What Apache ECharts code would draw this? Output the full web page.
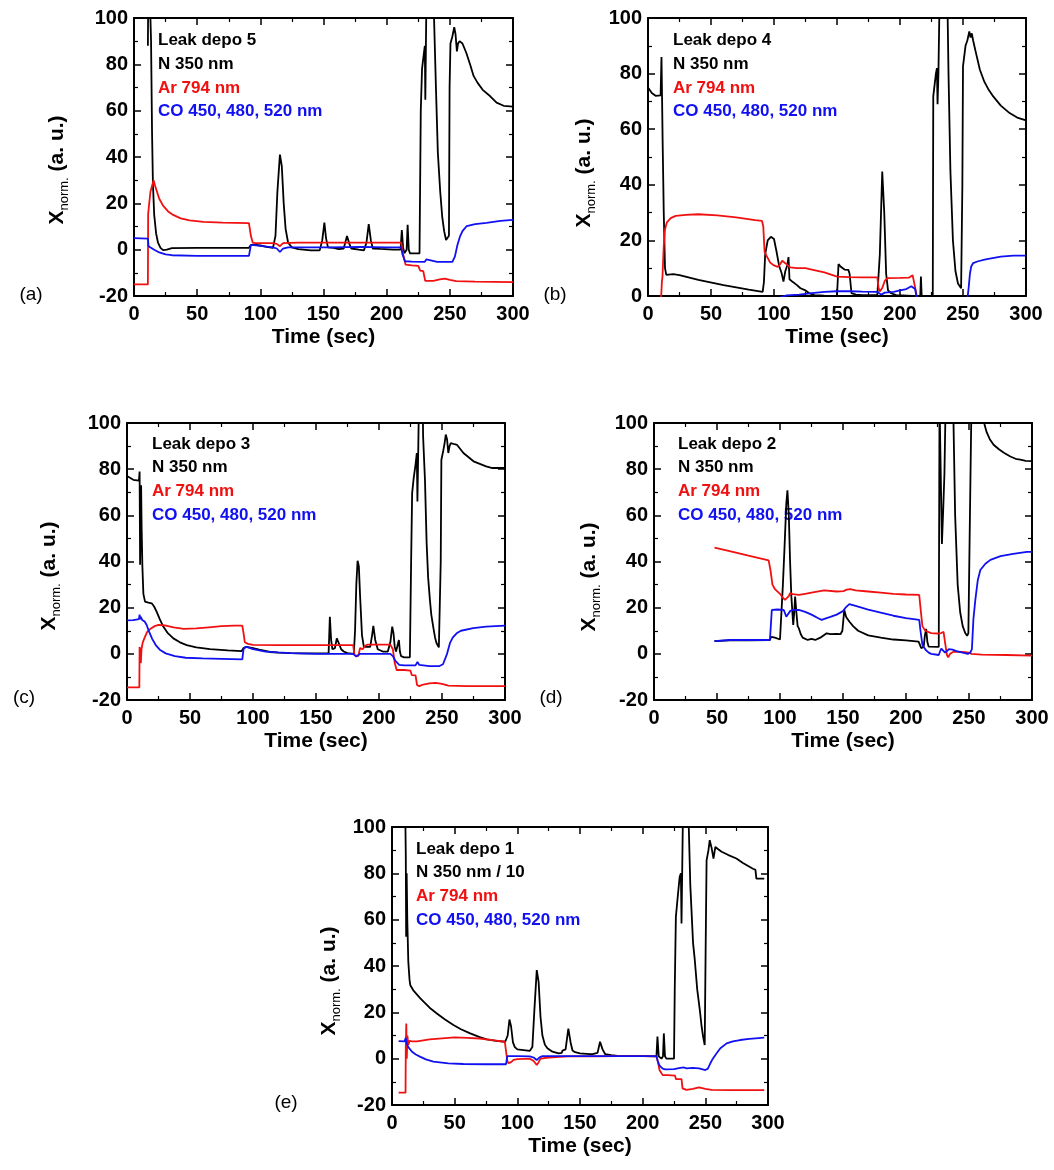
<!DOCTYPE html>
<html>
<head>
<meta charset="utf-8">
<script src="https://cdn.jsdelivr.net/npm/echarts@6/dist/echarts.min.js"></script>
<style>
html,body{margin:0;padding:0;background:#fff;}
#chart{width:1054px;height:1170px;}
</style>
</head>
<body>
<div id="chart"></div>
<script>
// ---------- DATA (time in s, normalized intensity) ----------
const a_N = [[11,88],[11.5,130],[13,130],[13.5,90],[14.3,50],[15,28],[16,15],[17.5,7],[19,3],[21,0.8],[23,-0.2],[26,0],[30,0.7],[50,0.8],[91,0.8],[92.5,2],[95,2.2],[100,1.8],[105,1.2],[110,0.8],[112,6],[113.5,25],[115.5,41],[117,36],[118.5,20],[120,9],[122,3],[125,1],[130,0.2],[140,-0.3],[147,-0.3],[149,4],[150.7,11.7],[152,5],[153.5,1],[158,0.8],[162,0.2],[166,0.5],[168.6,5.9],[170.5,2.5],[172,0.5],[178,0],[182,-0.3],[184,3],[185.8,11],[187.5,4],[189,0.5],[195,0.3],[205,0],[211,0],[212,8.5],[213,1],[214,-1.5],[215.8,0],[216.6,10.7],[217.5,0],[218.5,-1.6],[226,-1.6],[227,60],[228,78],[229.5,85],[230.2,88],[230.6,64.7],[231.3,100],[232,140],[236.5,140],[237.5,100],[239,70],[240.5,42],[242.4,25],[244,14],[245.5,8],[247,4.2],[248.5,4],[249.3,6],[249.8,70],[250.5,89],[252,92],[253.5,96],[254.5,93],[255.6,85.6],[256.5,89],[257.7,90],[260,89],[263,85],[266,80],[268.8,75],[272,72],[276,69],[282,66.2],[287,63.5],[292.6,62.1],[300,61.7]];
const a_Ar = [[0,-15],[11,-15],[11.2,15.5],[12,16],[13,25],[15.5,30],[17,27],[20,22],[23,19],[27,16.5],[31,15],[37,13.5],[44,12.6],[55,12],[70,11.7],[91,11.5],[92.5,6],[94,3],[96,2.8],[110,2.8],[113,2.5],[115.5,1.5],[118,2.8],[130,3],[150,3],[180,3],[200,3],[211.5,3],[213,-2],[215,-6.5],[220,-6.8],[225,-7],[226.5,-9],[229,-9.3],[230,-10],[230.5,-13.5],[232,-14],[237,-13.5],[242,-12.8],[246,-12.5],[250,-13],[255,-13.6],[270,-13.8],[300,-14]];
const a_CO = [[0,5],[11,4.8],[11.5,1.5],[13,1.2],[16,0],[20,-1.2],[25,-2],[30,-2.4],[50,-2.7],[91,-2.7],[92.5,2],[95,2],[100,1.6],[110,1],[113,0.5],[115.5,-1],[118,0.5],[122,1],[140,1],[155,1],[180,1.2],[200,1],[211.5,1],[212.5,-2],[214.5,-5],[220,-5.2],[230,-5.3],[231.5,-4.2],[233,-4.8],[240,-5.3],[252,-5.3],[254,-3],[256,2],[258,5.6],[260,8],[263.4,10.2],[270,11],[279,11.6],[290,12.4],[300,12.9]];

const b_N = [[0,75],[3,73],[6,72],[10,72.2],[10.7,86],[11.2,70],[11.6,56],[12.5,30],[13.5,10],[14.5,7.6],[16,7],[20,7.9],[25,7.5],[40,5.8],[60,3.9],[80,2.3],[91,1.5],[92,5],[93,15],[95,20],[97.5,21.3],[100,20.5],[102,16],[104,11],[106,8.3],[107.5,5.2],[109,9],[110.5,11],[111.5,14],[112.3,6],[113,6.5],[115,5],[118,4],[121,2.8],[125,2],[128,1],[132,0.3],[140,0.1],[150,0],[151.2,11.5],[153,10.5],[156,9.5],[159,9.4],[160,8],[161.5,1],[165,0.5],[170,0.3],[182,0.3],[184,15],[185.9,44.8],[187.5,30],[189,8],[190.5,2],[193,1],[197,0.3],[210,0],[213,0],[214,-1],[216,-1],[216.6,7],[217.3,-1],[226,-1],[226.4,71.8],[227,72],[228.5,80],[229.3,82],[229.8,69],[230.5,80],[231.5,110],[237.5,110],[238.5,80],[240,45],[242,20],[244,9],[246,4.5],[248.5,2.8],[249.5,40],[250,82.6],[252,90],[253.5,92],[255,95.2],[256,93],[257,94.5],[258,92],[260,88],[263.4,81.4],[267,77],[270,74.5],[274,71.8],[280,68.5],[287,65.8],[293,64.2],[300,63.2]];
const b_Ar = [[10,-1],[10.5,0],[11,5],[11.5,7],[12.5,18],[13.5,24],[15,26.5],[18,28],[22,28.8],[30,29.2],[40,29.4],[55,29],[70,28.3],[85,27.3],[90.5,27],[91.5,25],[92.5,16],[94,14.5],[97,12],[100,11],[103,10.5],[105,11.5],[106.5,12.7],[109,11.8],[111,11],[113,10.3],[118,10],[125,10],[130,9.5],[140,8.5],[150,7],[160,6.8],[170,6.7],[182,6.7],[183,3],[184,1.6],[186,3],[188,5.5],[190,6.4],[200,6.5],[207,6.6],[210,7.5],[211.5,7],[212.5,2],[213.5,-1]];
const b_CO = [[105,-0.5],[106,0],[110,0.2],[120,0.5],[130,1],[140,1.5],[150,1.7],[160,1.7],[170,1.6],[182,1.5],[183.5,0.8],[185,0.5],[188,1.2],[195,1.5],[200,2],[205,2.5],[209,3.5],[210.5,3.6],[212,2.5],[213,0],[213.5,-1],[253.5,-1],[254.5,3],[255.5,8],[256.5,10.6],[258,11.8],[262,12.5],[268,13.2],[280,14.2],[290,14.5],[300,14.5]];

const c_N = [[0,77],[5,75.4],[9.5,75],[10,79],[10.4,38.6],[10.8,60],[11.2,73],[11.6,55],[12.2,38],[13,26],[14.3,22.6],[17,22.2],[19.6,21.9],[21.5,20.5],[23.5,18.3],[26,15],[28.8,11.8],[32,9.2],[36.8,6.7],[42,5],[47.4,3.8],[55,2.8],[65.9,2],[80,1.5],[91,1.2],[92.5,2.5],[95,3],[100,2.5],[105,1.8],[113.5,0.8],[120,0.5],[130,0.3],[140,0.2],[150,0.2],[160,0.2],[160.5,8],[161,16],[162,6],[163,2],[165,2.5],[166.5,6.7],[168,6],[170,2],[172,1],[175,0.3],[180,0],[181,10],[182,30],[183,40.3],[184,38],[185,25],[186.5,8],[188,3],[190,3],[193,3],[194.5,8],[195.5,12.1],[197,6],[199,2],[203,1],[207,1],[209,5],[210.5,11.8],[211.5,9],[212.5,3],[213.5,1],[215,1],[215.8,6],[216.6,1],[217.5,-1],[220,-1.5],[224.5,-1.5],[225.5,40],[226.3,69.6],[227.5,76],[229,82],[230,87],[230.5,66],[231.2,90],[232,120],[234.5,120],[235,94.2],[236.5,75],[237.8,48],[239,33],[240.4,23.4],[241.5,17],[243,11.8],[244.5,7],[245.7,4.6],[247.5,2.8],[248.3,3],[249,40],[249.5,84],[251,88],[252,91],[253,95],[254,93],[255,87],[256,90],[257,91.3],[260,90.8],[262,90.5],[267,87],[275,83.4],[285,81.2],[290,80.5],[300,80.5]];
const c_Ar = [[0,-14.5],[9.8,-14.5],[10,3],[10.5,0],[11,-4],[11.5,2],[12.5,5],[14,7],[16,9.5],[19,11],[22,12],[25,12.5],[30,12.3],[37,11.5],[45,10.8],[55,11],[65,11.5],[75,12],[85,12.2],[91.5,12.2],[92.5,9],[93.5,5],[96,4.3],[100,3.9],[120,3.8],[150,3.8],[160,3.8],[179.5,3.8],[180.5,-0.5],[182,-1.2],[183.5,-1],[185,2.5],[187,2],[189,3.5],[191,4],[200,4],[209,4],[211,2],[212.5,-4],[214,-7],[220,-7],[225,-7.3],[226,-9.2],[229,-9.3],[229.8,-10],[230.2,-13.5],[232,-14],[235,-13.3],[240,-12.8],[245,-12.6],[250,-13],[255,-13.8],[270,-14],[300,-14]];
const c_CO = [[0,14.5],[5,14.6],[9.5,15],[10,17],[10.5,15],[11,16],[12,14.7],[14,14],[15.6,12.5],[17.5,9.6],[20,6.5],[22.8,3.8],[26,1.8],[30.7,0.2],[38,-1],[46.6,-1.7],[60,-2],[75,-2.2],[91.5,-2.4],[92.5,2],[94,3],[96,2.8],[100,2],[110,1],[120,0.6],[130,0.3],[150,0],[179.5,0],[180.5,-0.8],[182,-1.2],[183.5,-1],[185,0],[200,0],[209,0],[211,-1],[213,-3],[216,-4.8],[220,-5],[229,-5],[230.5,-3.5],[232,-4.8],[240,-5.3],[248,-5.3],[250.8,-4.5],[252.3,-4.1],[254,0],[256.3,4.6],[258.5,7],[261.6,8.9],[265,10],[274.8,11.1],[285,11.8],[300,12.2]];

const d_N = [[48,5.5],[60,5.8],[75,5.8],[92,6],[93,7.4],[96,7],[100,6.2],[101.5,6],[102.3,30],[103.5,45],[105,65],[105.9,70.8],[107,60],[108,40],[109,25],[110.5,12.5],[111.3,18],[112,24.8],[113,18],[114,12],[115,11],[116.5,8.5],[118,7],[122,6],[125,6.5],[128,6],[132,7],[137,8.9],[140,8.5],[145,8.6],[148,8.5],[149.5,10],[151,19],[152.5,16],[155,14],[158,12],[162,10],[170,8],[180,7],[190,6.2],[200,5.8],[210,5.3],[211,4],[212,2.5],[214,3],[215,8],[216,10.8],[217,5],[218,3.1],[226,3],[226.6,110],[227.8,110],[228.5,47.6],[229.5,62],[230.5,78],[231.5,110],[237,110],[237.7,100],[239,60],[241,30],[243,18],[245,12],[247,9],[248.5,7.8],[249.5,9],[250.5,50],[252,110],[261,110],[262,100],[264,96],[266.5,93],[269.5,90.6],[274,88.5],[278,87],[282.8,85.5],[287,84.5],[290.7,84.1],[295,83.6],[300,83.5]];
const d_Ar = [[48,46],[60,44.5],[75,42.5],[91,40.5],[92.5,36],[94,30],[96,28],[100,26],[102,24.5],[104,23.4],[105.5,23.5],[107,25],[108,26.3],[110,25.9],[115,25.5],[120,26],[125,26.5],[135,27.5],[145,27],[150.4,27.2],[151.5,26.8],[153,27.8],[155.7,28],[160,27.5],[170,27],[180,26.5],[190,26],[200,25.7],[210.5,25.5],[211.5,20],[213,12],[215.3,10],[220,9],[225,8.8],[228,9],[229.8,9.5],[230.5,9],[231.5,3],[232.5,-0.5],[233.5,-1.5],[235,0],[238,1],[245,0.8],[250,0.5],[252,0],[260,-0.3],[280,-0.5],[300,-0.8]];
const d_CO = [[48,5.5],[60,6],[75,6],[92,6],[92.7,12],[93.5,19],[98,19.2],[103,19],[105,16.1],[106,16.5],[108,18.5],[110,19],[115,19],[120,18.2],[125,17],[130,15.5],[133,14.7],[137,15.5],[140,16],[145,17],[150,18.5],[152,20],[155,21.5],[160,20.8],[170,19.2],[180,17.8],[190,16.5],[200,15.5],[210.5,14.7],[211.5,10],[213,4],[214,3],[216,1.5],[218,0.5],[220,0],[226,-0.5],[227,1],[228,2.3],[229.5,2],[231,0.5],[232.5,1],[234,2],[237,1.8],[240,1.2],[245,0.5],[249,0],[251,0.5],[252.3,2],[253.5,15],[255,23.3],[257,32],[259,36.3],[263,39],[267,40.7],[275,42.3],[285,43.3],[296,44.2],[300,44.2]];

const e_N = [[10,140],[10.5,110],[11,88],[11.3,52.6],[11.7,80],[12.2,60],[13,42],[14,34],[14.6,31.7],[17,29.5],[22.6,26],[30,22],[35.8,19.5],[42,17],[49,14.5],[55,12.7],[62.4,10.9],[70,9.3],[75.7,8.3],[83,7.7],[90.3,7.3],[91.5,7],[92.3,10],[93.7,16.9],[95,14],[96.5,7],[98,5],[100,4],[105,3.7],[110,3.4],[112,5],[113.5,20],[115.5,38.2],[117,33],[118.5,18],[120,10],[122,6],[124,4.5],[128,3],[133,2.3],[135.5,2.5],[136,3.5],[137,3],[138.5,4],[140.7,13],[142.5,7],[144,3.5],[146,2.8],[150,2.3],[158,2],[159,2.8],[160,2],[164,2.5],[166,7.3],[168,4],[170,2],[175,1.5],[180,1.2],[190,1.1],[200,1.1],[211,1],[211.8,9.5],[212.8,1],[215,0],[216.2,1],[216.9,10.9],[217.8,1],[219,0],[225,0],[225.6,30],[226.5,61.2],[228,70],[229.5,78.4],[230.5,80],[231,58.3],[231.5,58.3],[232,100],[232.5,140],[236.5,140],[236.8,100],[238,75],[240.2,50],[241.6,42.5],[243.5,30],[245.6,21],[247,14],[248.2,9.5],[249.5,5.9],[250.3,50],[251,85.6],[252.5,90],[253.5,94.3],[255,91],[256.5,86.4],[258,91.4],[260,90.5],[263,89.3],[268,88],[274.8,86.4],[280,84.5],[288,82],[290,81.5],[290.7,77.7],[297,77.7]];
const e_Ar = [[5.3,-14.7],[10.8,-14.7],[11,5],[11.4,15.2],[11.8,0],[12.3,10],[13,6],[14,7.7],[16,7.5],[20,7.5],[30,8.3],[40,8.8],[50,9.2],[60,9],[70,8.7],[80,8],[90,7.3],[91.3,7],[92,-1],[93,-2],[95,-1.5],[97,-0.5],[100,-0.2],[110,0],[113,-1],[115.5,-2.75],[117,-1.5],[118.5,0],[125,0.5],[140,1],[160,1],[180,1.1],[200,1.1],[211,1],[212,-1],[213.5,-5],[216,-7.1],[220,-7.1],[225.8,-7.3],[226.5,-8.8],[231,-8.8],[231.8,-12.8],[235,-13.5],[240,-13],[245,-12.4],[250,-13],[255,-13.5],[270,-13.6],[297,-13.6]];
const e_CO = [[5.3,7.6],[10,7.5],[11,9],[11.7,6.6],[13,5],[16,3],[19,1.8],[22.3,0.9],[27,-0.3],[33,-1.3],[45,-2],[56.9,-2.3],[75,-2.4],[91,-2.4],[92,1.1],[100,1.1],[110,1],[113,0.5],[115.5,-0.6],[117.5,0.5],[120,1.1],[140,1.1],[160,1.1],[180,1.1],[211,1.1],[212,-1],[213.5,-3],[216,-4.3],[218,-4.6],[225,-4.5],[230,-4],[233,-3.8],[235,-4.2],[240,-4],[245,-4.2],[250,-4.9],[252,-4.3],[254,-2],[256,0],[259,2.3],[262,4.5],[267,6.6],[272,7.5],[277.7,8.05],[285,8.5],[290,8.8],[297,9.06]];

// ---------- TEXT ----------
const panelTags = ['(a)', '(b)', '(c)', '(d)', '(e)'];
const depoTitles = ['Leak depo 5', 'Leak depo 4', 'Leak depo 3', 'Leak depo 2', 'Leak depo 1'];
const nLabels = ['N 350 nm', 'N 350 nm', 'N 350 nm', 'N 350 nm', 'N 350 nm / 10'];
const arLabel = 'Ar 794 nm';
const coLabel = 'CO 450, 480, 520 nm';
const xName = 'Time (sec)';
const yMins = [-20, 0, -20, -20, -20];

// ---------- LAYOUT ----------
const panels = [
  {grid: {left: 134, top: 18, width: 379, height: 278}, leg: [158, 40.7], ylab: [57, 170], tag: [31, 295], N: a_N, Ar: a_Ar, CO: a_CO},
  {grid: {left: 648, top: 18, width: 378, height: 278}, leg: [673, 40.7], ylab: [584, 173], tag: [555, 295], N: b_N, Ar: b_Ar, CO: b_CO},
  {grid: {left: 127, top: 423, width: 378, height: 277}, leg: [152, 444], ylab: [49, 576], tag: [24, 698], N: c_N, Ar: c_Ar, CO: c_CO},
  {grid: {left: 654, top: 423, width: 378, height: 277}, leg: [678, 444], ylab: [589, 577], tag: [551, 698], N: d_N, Ar: d_Ar, CO: d_CO},
  {grid: {left: 392, top: 827, width: 376, height: 278}, leg: [416, 849], ylab: [329, 981], tag: [286, 1103], N: e_N, Ar: e_Ar, CO: e_CO}
];

const RED = '#f01010', BLUE = '#1010f0', BLACK = '#000';
const FONT = 'Liberation Sans, Arial, sans-serif';

const grids = [], xAxes = [], yAxes = [], series = [], graphics = [];
const tickCommon = {
  axisLine: {show: true, onZero: false, lineStyle: {color: '#000', width: 2}},
  axisTick: {show: true, inside: true, length: 7, lineStyle: {color: '#000', width: 1.5}},
  minorTick: {show: true, splitNumber: 2, length: 4, lineStyle: {color: '#000', width: 1.2}},
  splitLine: {show: false}, minorSplitLine: {show: false}
};
const labelStyle = {color: '#000', fontFamily: FONT, fontWeight: 'bold', fontSize: 20};

panels.forEach((p, i) => {
  grids.push(Object.assign({containLabel: false}, p.grid));
  const xb = Object.assign({}, tickCommon, {
    type: 'value', gridIndex: i, position: 'bottom', min: 0, max: 300, interval: 50,
    axisLabel: Object.assign({margin: 8}, labelStyle),
    name: xName, nameLocation: 'middle', nameGap: 31,
    nameTextStyle: {color: '#000', fontFamily: FONT, fontWeight: 'bold', fontSize: 21}
  });
  const xt = Object.assign({}, tickCommon, {
    type: 'value', gridIndex: i, position: 'top', min: 0, max: 300, interval: 50,
    axisLabel: {show: false}
  });
  const yl = Object.assign({}, tickCommon, {
    type: 'value', gridIndex: i, position: 'left', min: yMins[i], max: 100, interval: 20,
    axisLabel: Object.assign({margin: 6}, labelStyle)
  });
  const yr = Object.assign({}, tickCommon, {
    type: 'value', gridIndex: i, position: 'right', min: yMins[i], max: 100, interval: 20,
    axisLabel: {show: false}
  });
  xAxes.push(xb, xt);
  yAxes.push(yl, yr);
  const mk = (name, data, color) => ({
    type: 'line', name: name, data: data, xAxisIndex: 2 * i, yAxisIndex: 2 * i,
    showSymbol: false, symbol: 'none', clip: true, silent: true,
    lineStyle: {color: color, width: 1.8}, itemStyle: {color: color}
  });
  series.push(mk(nLabels[i], p.N, BLACK), mk(arLabel, p.Ar, RED), mk(coLabel, p.CO, BLUE));

  // legend-like texts
  const lines = [[depoTitles[i], BLACK], [nLabels[i], BLACK], [arLabel, RED], [coLabel, BLUE]];
  lines.forEach((ln, k) => {
    graphics.push({
      type: 'text', x: p.leg[0], y: p.leg[1] + k * 23.7, silent: true,
      style: {text: ln[0], fill: ln[1], font: 'bold 17px ' + FONT, textAlign: 'left', textVerticalAlign: 'middle'}
    });
  });
  // y axis title
  graphics.push({
    type: 'text', x: p.ylab[0], y: p.ylab[1], rotation: Math.PI / 2, silent: true,
    style: {
      text: '{b|X}{s|norm.}{b| (a. u.)}', textAlign: 'center', textVerticalAlign: 'middle',
      rich: {
        b: {fontFamily: FONT, fontWeight: 'bold', fontSize: 21, lineHeight: 28, fill: '#000', verticalAlign: 'middle'},
        s: {fontFamily: FONT, fontWeight: 'normal', fontSize: 13, lineHeight: 13, fill: '#000', verticalAlign: 'bottom'}
      }
    }
  });
  // panel tag
  graphics.push({
    type: 'text', x: p.tag[0], y: p.tag[1], silent: true,
    style: {text: panelTags[i], fill: '#000', font: '19px ' + FONT, textAlign: 'center', textVerticalAlign: 'middle'}
  });
});

const chart = echarts.init(document.getElementById('chart'), null, {renderer: 'canvas'});
chart.setOption({
  backgroundColor: '#fff',
  animation: false,
  grid: grids,
  xAxis: xAxes,
  yAxis: yAxes,
  series: series,
  graphic: graphics
});
</script>
</body>
</html>
